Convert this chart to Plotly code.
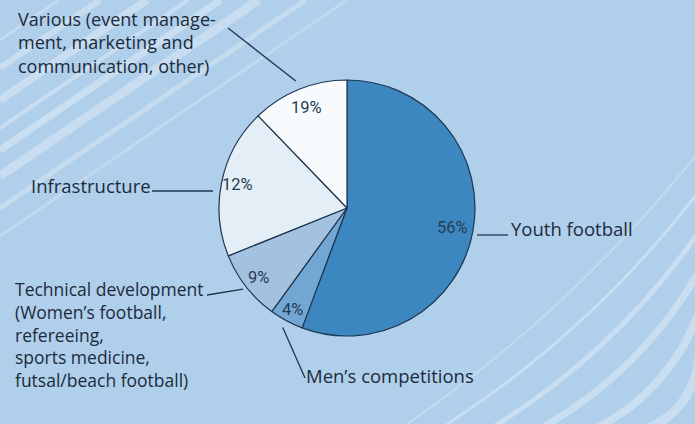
import math
import plotly.graph_objects as go

# ---- data ----
categories = ["Youth football", "Men's competitions", "Technical development",
              "Infrastructure", "Various"]
# slice sizes as drawn in the picture (share of the full circle, %)
slice_sizes = [55.7, 4.3, 8.9, 18.9, 12.2]
# percentages as printed on the slices
printed_pct = ["56%", "4%", "9%", "12%", "19%"]
slice_colors = ["#3d87c0", "#72a7d3", "#a2c2df", "#e4eef7", "#f8fbfe"]

label_lines = [
    ["Youth football"],
    ["Men\u2019s competitions"],
    ["Technical development", "(Women\u2019s football,", "refereeing,",
     "sports medicine,", "futsal/beach football)"],
    ["Infrastructure"],
    ["Various (event manage-", "ment, marketing and", "communication, other)"],
]

W, H = 695, 424
CX, CY, R = 347, 208, 128          # pie centre / radius in pixels
BG = "#b0cfea"
INK = "#1b2b3c"

def px(x):
    return x / W

def py(y):
    return 1 - y / H

fig = go.Figure()
fig.add_trace(go.Pie(
    labels=categories, values=slice_sizes, sort=False, direction="clockwise",
    rotation=0, textinfo="none", hoverinfo="label+percent",
    marker=dict(colors=slice_colors, line=dict(color="#1f3550", width=1.2)),
    domain=dict(x=[px(CX - R), px(CX + R)], y=[py(CY + R), py(CY - R)]),
    showlegend=False,
))

# mid angles of slices (clockwise from 12 o'clock)
total = sum(slice_sizes)
mids = []
acc = 0
for v in slice_sizes:
    mids.append((acc + v / 2) / total * 360)
    acc += v

def polar(angle_deg, rfrac):
    a = math.radians(angle_deg)
    return CX + rfrac * R * math.sin(a), CY - rfrac * R * math.cos(a)

annotations = []
pct_r = [0.84, 0.90, 0.88, 0.875, 0.85]
for i, t in enumerate(printed_pct):
    x, y = polar(mids[i], pct_r[i])
    annotations.append(dict(
        x=px(x), y=py(y), xref="paper", yref="paper", text=t, showarrow=False,
        font=dict(family="Roboto, sans-serif", size=16.5, color="#263c52"),
        xanchor="center", yanchor="middle"))

# outer labels: (label index, x, y of block centre, xanchor, font size)
label_pos = [
    (0, 509, 228.5, "left", 18.5),
    (1, 304, 375, "left", 18.5),
    (2, 13, 334, "left", 17.5),
    (3, 153, 185.5, "right", 18.5),
    (4, 16, 42, "left", 18),
]
for idx, x, y, xa, fs in label_pos:
    annotations.append(dict(
        x=px(x), y=py(y), xref="paper", yref="paper",
        text="<br>".join(label_lines[idx]), showarrow=False,
        font=dict(family="Open Sans, Noto Sans, sans-serif", size=fs, color=INK),
        align="left", xanchor=xa, yanchor="middle"))

shapes = []
# background stripes top-left (slope ~ -0.68)
for b, w, op in [(40, 3, 0.25), (68, 6, 0.3), (100, 8, 0.32), (128, 4, 0.3),
                 (150, 7, 0.32), (176, 9, 0.3), (208, 5, 0.27), (236, 3, 0.22)]:
    shapes.append(dict(type="line", xref="paper", yref="paper", layer="below",
                       x0=0, y0=py(b), x1=px(b / 0.68), y1=py(0),
                       line=dict(color="rgba(255,255,255,%.2f)" % op, width=w)))
# background arcs bottom-right
for xb, yr, w, op in [(400, 150, 2, 0.25), (440, 190, 3, 0.3), (490, 230, 5, 0.32),
                      (540, 270, 7, 0.32), (595, 310, 8, 0.32), (645, 350, 9, 0.3),
                      (690, 395, 8, 0.28)]:
    x0, y0 = xb, H + 5
    x1, y1 = W + 5, yr
    cxp, cyp = (x0 + x1) / 2 + 22, (y0 + y1) / 2 + 22
    path = "M %.4f,%.4f Q %.4f,%.4f %.4f,%.4f" % (px(x0), py(y0), px(cxp), py(cyp), px(x1), py(y1))
    shapes.append(dict(type="path", xref="paper", yref="paper", layer="below",
                       path=path,
                       line=dict(color="rgba(255,255,255,%.2f)" % op, width=w)))

# leader lines: (slice index, radius fraction at pie end, fixed start, label end)
leaders = [
    (0, None, (477, 235), (508, 235)),
    (1, 1.06, None, (305, 378)),
    (2, 1.03, None, (207, 295)),
    (3, None, (213, 191), (152, 191)),
    (4, 1.07, None, (228, 28)),
]
for idx, rf, start, end in leaders:
    if start is None:
        start = polar(mids[idx], rf)
    shapes.append(dict(type="line", xref="paper", yref="paper",
                       x0=px(start[0]), y0=py(start[1]), x1=px(end[0]), y1=py(end[1]),
                       line=dict(color="#1f3550", width=1.3)))

fig.update_layout(
    width=W, height=H, margin=dict(l=0, r=0, t=0, b=0),
    paper_bgcolor=BG, plot_bgcolor=BG,
    annotations=annotations, shapes=shapes,
)
fig.write_html("out.html", config={"displayModeBar": False},
               post_script="document.body.style.margin='0';document.body.style.overflow='hidden';")
